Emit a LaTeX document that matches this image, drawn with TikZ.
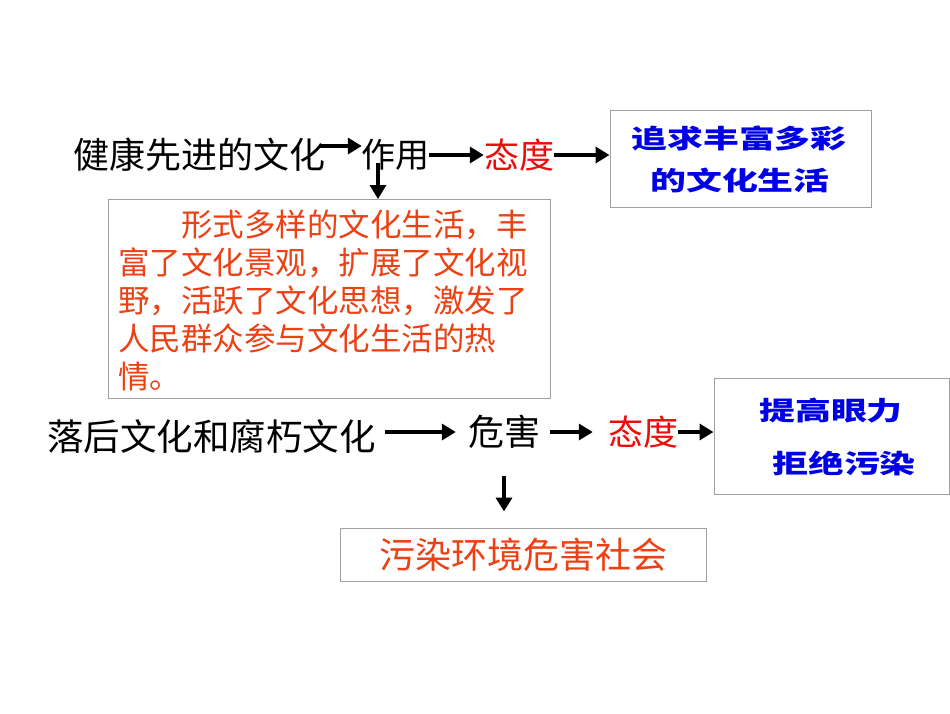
\documentclass[tikz,border=0pt]{standalone}
\usepackage{fontspec}
\usepackage{graphicx}
\usetikzlibrary{arrows.meta}
\newfontfamily\cjk{Noto Sans CJK SC}
\definecolor{bodyred}{RGB}{235,65,20}
\definecolor{attred}{RGB}{240,10,10}
\definecolor{fancyblue}{RGB}{0,0,230}
\definecolor{boxgray}{RGB}{160,160,160}
\tikzset{
  blk/.style={inner sep=0pt, font=\cjk\fontsize{36}{40}\selectfont, text=black},
  att/.style={inner sep=0pt, font=\cjk\fontsize{35}{40}\selectfont, text=attred},
  fancy/.style={inner sep=0pt, font=\cjk\bfseries\fontsize{26}{30}\selectfont, text=fancyblue},
  box/.style={draw=boxgray, line width=1pt, inner sep=0pt},
  arr/.style={line width=4pt, -{Triangle[length=14pt,width=16pt]}},
}
\newcommand{\wide}[1]{\scalebox{1.38}[1]{#1}}
\begin{document}
\begin{tikzpicture}[x=1pt,y=-1pt]
\useasboundingbox[fill=white] (0,0) rectangle (950,713);

% top row
\node[blk, anchor=west] (a1) at (73,155) {健康先进的文化};
\node[blk, font=\cjk\fontsize{34}{40}\selectfont] (a2) at (395,155) {作用};
\node[att] (a3) at (519,155) {态度};
\node[box, minimum width=261pt, minimum height=97pt] (b1) at (740.5,158.5) {};
\node[fancy] (b1a) at (739,138) {\wide{追求丰富多彩}};
\node[fancy] (b1b) at (740,180) {\wide{的文化生活}};

\draw[arr] ([xshift=-5pt,yshift=9pt]a1.east) -- ([xshift=1pt,yshift=9pt]a2.west);
\draw[arr] (a2.east) -- (a3.west);
\draw[arr] (a3.east) -- (b1.west |- a3.east);

% middle text box
\node[box, anchor=north west, minimum width=442pt, minimum height=199pt] (b2) at (108,199) {};
\node[inner sep=0pt, anchor=north west, align=left, text=bodyred,
      font=\cjk\fontsize{31.5}{38}\selectfont] (b2t) at (118,210)
  {\hspace*{2em}形式多样的文化生活，丰\\
   富了文化景观，扩展了文化视\\
   野，活跃了文化思想，激发了\\
   人民群众参与文化生活的热\\
   情。};
\draw[arr] ([xshift=-17pt,yshift=8pt]a2.south) -- ([xshift=-17pt]a2.south |- b2.north);

% bottom row
\node[blk, font=\cjk\fontsize{36.5}{40}\selectfont, anchor=west] (c1) at (47,437) {落后文化和腐朽文化};
\node[blk] (c2) at (504,432) {危害};
\node[att] (c3) at (643,432) {态度};
\node[box, minimum width=235pt, minimum height=116pt] (b3) at (831.5,436) {};
\node[fancy] (b3a) at (831,411) {\wide{提高眼力}};
\node[fancy] (b3b) at (844,463) {\wide{拒绝污染}};

\draw[arr] ([xshift=9pt,yshift=5pt]c1.east) -- ([xshift=-12pt]c2.west);
\draw[arr] ([xshift=10pt]c2.east) -- ([xshift=-15pt]c3.west);
\draw[arr] (c3.east) -- (b3.west |- c3.east);

\node[box, minimum width=366pt, minimum height=53pt] (b4) at (523,554.5) {};
\node[inner sep=0pt, text=bodyred, font=\cjk\fontsize{36}{40}\selectfont] (b4t) at (523,555) {污染环境危害社会};
\draw[arr] ([yshift=-27pt]c2.south) -- ([yshift=16pt]b4.north -| c2.south);

\end{tikzpicture}
\end{document}
